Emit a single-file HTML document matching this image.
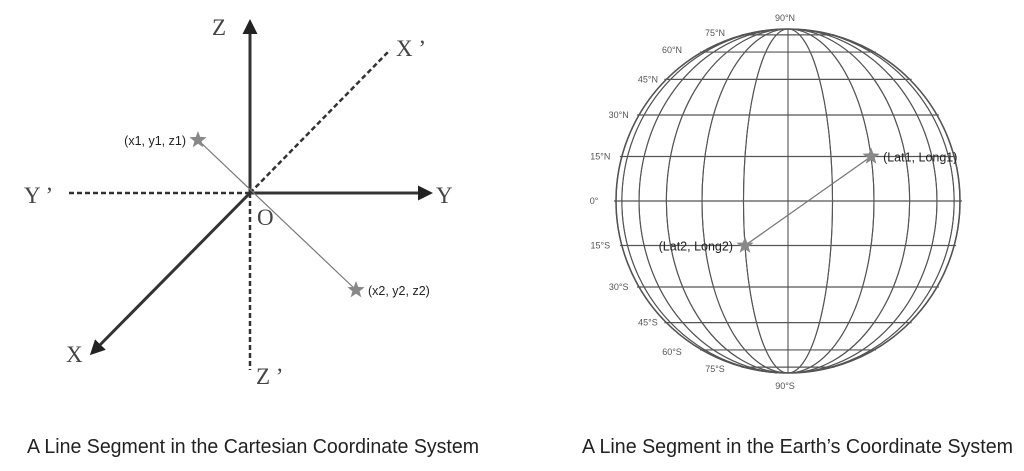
<!DOCTYPE html>
<html><head><meta charset="utf-8"><style>
html,body{margin:0;padding:0;background:#fff;}
svg{display:block;}
</style></head><body>
<svg id="fig" width="1024" height="471" viewBox="0 0 1024 471" xmlns="http://www.w3.org/2000/svg">
<defs>
<marker id="arr" viewBox="0 0 10 10" refX="8" refY="5" markerWidth="5" markerHeight="5" orient="auto"><path d="M0,0 L10,5 L0,10 z" fill="#222"/></marker>
</defs>
<g id="cart">
  <line x1="250" y1="193" x2="250" y2="22" stroke="#333" stroke-width="3" marker-end="url(#arr)"/>
  <line x1="250" y1="193" x2="430" y2="193" stroke="#333" stroke-width="3" marker-end="url(#arr)"/>
  <line x1="250" y1="193" x2="92" y2="353" stroke="#333" stroke-width="3" marker-end="url(#arr)"/>
  <line x1="250" y1="193" x2="67" y2="193" stroke="#333" stroke-width="2.5" stroke-dasharray="5,3"/>
  <line x1="250" y1="193" x2="390" y2="50" stroke="#333" stroke-width="2.5" stroke-dasharray="5,3"/>
  <line x1="250" y1="193" x2="250" y2="370" stroke="#333" stroke-width="2.5" stroke-dasharray="5,3"/>
  <line x1="198" y1="140" x2="356" y2="290" stroke="#777" stroke-width="1.2"/>
  <g font-family="Liberation Serif, serif" font-size="23" fill="#444">
    <text x="212" y="35">Z</text>
    <text x="396" y="56">X ’</text>
    <text x="24" y="203">Y ’</text>
    <text x="436" y="203">Y</text>
    <text x="257" y="225">O</text>
    <text x="66" y="362">X</text>
    <text x="256" y="384">Z ’</text>
  </g>
  <text x="186" y="145" text-anchor="end" font-family="Liberation Sans, sans-serif" font-size="12.5" fill="#222">(x1, y1, z1)</text>
  <text x="368" y="295" font-family="Liberation Sans, sans-serif" font-size="12.5" fill="#222">(x2, y2, z2)</text>
</g>
<g id="globe"></g>
<text x="27" y="453" textLength="452" lengthAdjust="spacingAndGlyphs" font-family="Liberation Sans, sans-serif" font-size="20" fill="#222">A Line Segment in the Cartesian Coordinate System</text>
<text x="582" y="453" textLength="431" lengthAdjust="spacingAndGlyphs" font-family="Liberation Sans, sans-serif" font-size="20" fill="#222">A Line Segment in the Earth’s Coordinate System</text>
</svg>
<script>
const latitudes = [75, 60, 45, 30, 15, 0, -15, -30, -45, -60, -75];
const longitudes = [-90, -75, -60, -45, -30, -15, 0, 15, 30, 45, 60, 75, 90];
const latLabels = ["90°N","75°N","60°N","45°N","30°N","15°N","0°","15°S","30°S","45°S","60°S","75°S","90°S"];
const labelLats = [90,75,60,45,30,15,0,-15,-30,-45,-60,-75,-90];
const starLats = [15, -15];
const starLons = [30, -15];
const starNames = ["(Lat1, Long1)", "(Lat2, Long2)"];
const cartStarsX = [198, 356];
const cartStarsY = [140, 290];

const NS = "http://www.w3.org/2000/svg";
const cx = 788, cy = 201, R = 172;
const rad = d => d * Math.PI / 180;
const px = (lat, lon) => cx + R * Math.cos(rad(lat)) * Math.sin(rad(lon));
const py = lat => cy - R * Math.sin(rad(lat));
const g = document.getElementById('globe');
function mk(tag, attrs, parent) {
  const e = document.createElementNS(NS, tag);
  for (const k in attrs) e.setAttribute(k, attrs[k]);
  (parent || g).appendChild(e);
  return e;
}
let o = mk('circle', {cx: cx, cy: cy, r: R, fill: 'none', stroke: '#444', 'stroke-width': 1.5});


longitudes.forEach(lon => {
  const rx = Math.abs(R * Math.sin(rad(lon)));
  let e;
  if (rx < 0.5) e = mk('line', {x1: cx, y1: cy - R, x2: cx, y2: cy + R, stroke: '#555', 'stroke-width': 1.1});
  else e = mk('ellipse', {cx: cx, cy: cy, rx: rx, ry: R, fill: 'none', stroke: '#555', 'stroke-width': 1.1});
  
  
});
latitudes.forEach(lat => {
  const hw = R * Math.cos(rad(lat)) + 2;
  const e = mk('line', {x1: cx - hw, y1: py(lat), x2: cx + hw, y2: py(lat), stroke: '#555', 'stroke-width': 1.2});
  
  
});
labelLats.forEach((lat, i) => {
  const a = rad(lat);
  let x, y;
  if (Math.abs(lat) === 90) { x = cx - 3; y = py(lat) + (lat > 0 ? -8 : 16); }
  else { x = cx - (R + 12) * Math.cos(a) - 10; y = py(lat) + 3; }
  if (lat === 75) { x = 715; y = 36; } if (lat === -75) { x = 715; y = 372; }
  if (lat === 60) { x = 672; y = 53; } if (lat === -60) { x = 672; y = 355; }
  const t = mk('text', {x: x, y: y, 'text-anchor': 'middle', 'font-family': 'Liberation Sans, sans-serif', 'font-size': 9, fill: '#555'});
  t.textContent = latLabels[i];
  
  
});
function star(x, y, r, parent) {
  let d = '';
  for (let i = 0; i < 10; i++) {
    const rr = i % 2 ? r * 0.42 : r;
    const a = -Math.PI / 2 + i * Math.PI / 5;
    d += (i ? 'L' : 'M') + (x + rr * Math.cos(a)).toFixed(1) + ',' + (y + rr * Math.sin(a)).toFixed(1);
  }
  return mk('path', {d: d + 'Z', fill: '#888'}, parent);
}
const sx = starLats.map((la, i) => px(la, starLons[i]));
const sy = starLats.map(la => py(la));
let seg = mk('line', {x1: sx[0], y1: sy[0], x2: sx[1], y2: sy[1], stroke: '#777', 'stroke-width': 1.3});


sx.forEach((x, i) => {
  const s = star(x, sy[i], 9);
  
  
  const t = mk('text', {x: i === 0 ? x + 12 : x - 12, y: sy[i] + 5, 'text-anchor': i === 0 ? 'start' : 'end', 'font-family': 'Liberation Sans, sans-serif', 'font-size': 12.5, fill: '#222'});
  t.textContent = starNames[i];
  
  
});
const cart = document.getElementById('cart');
cartStarsX.forEach((x, i) => {
  const s = star(x, cartStarsY[i], 9, cart);
  
  
});
</script>
</body></html>
